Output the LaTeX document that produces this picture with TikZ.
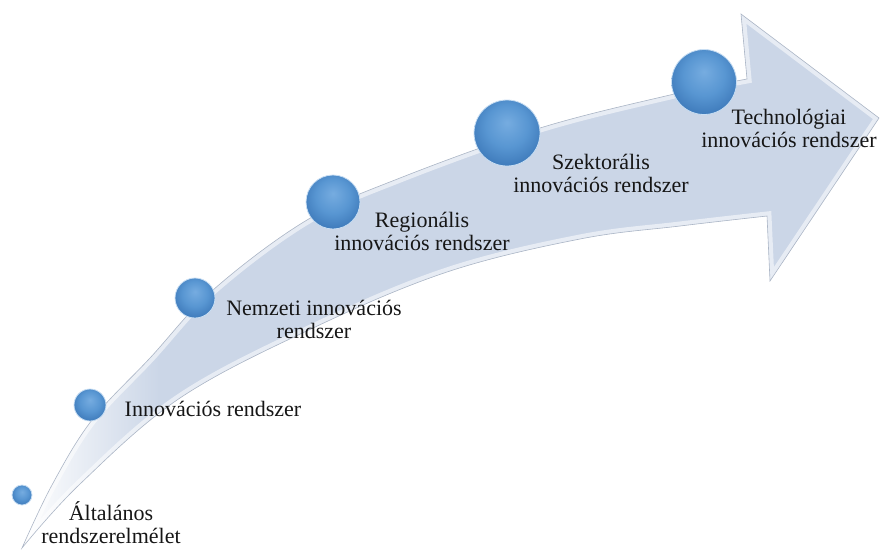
\documentclass[tikz,border=0pt]{standalone}
\usepackage{fontspec}
\setmainfont{Liberation Serif}

\definecolor{arw}{RGB}{203,214,231}
\definecolor{arwedge}{RGB}{172,182,198}
\definecolor{sphhi}{RGB}{118,172,224}
\definecolor{sphmid}{RGB}{88,150,210}
\definecolor{sphlo}{RGB}{64,124,188}
\definecolor{sphrim}{RGB}{200,222,243}
\definecolor{ink}{RGB}{22,22,22}

% body of the arrow: white at the tail, light steel blue further on
\pgfdeclarehorizontalshading{arrowfade}{100bp}{color(0bp)=(white); color(25bp)=(white); color(33bp)=(arw); color(100bp)=(arw)}
% glossy blue spheres, lit from above
\pgfdeclareradialshading{sphere}{\pgfpoint{0bp}{8bp}}{color(0bp)=(sphhi); color(16bp)=(sphmid); color(28bp)=(sphlo); color(33bp)=(sphlo); color(50bp)=(sphlo)}

% outline of the curved arrow: upper edge, head, lower edge
\def\arrowpath{plot[smooth, tension=0.6] coordinates {(22,548) (52,485) (92,420) (150,358) (213,290) (307,220) (400,178) (540,128) (670,95) (747,79)}
  -- (741,14) -- (879,118) -- (770,281)
  -- plot[smooth, tension=0.6] coordinates {(767,216) (680,226) (580,239) (447,272) (313,328) (180,398) (80,484) (22,548)} -- cycle}

\begin{document}
\begin{tikzpicture}[x=1pt, y=-1pt,
  lbl/.style={font=\fontsize{22}{22.5}\selectfont, align=center, anchor=base, inner sep=0pt, text=ink},
  orb/.style={circle, minimum size=#1, inner sep=0pt, shading=sphere, draw=sphrim, line width=0.8pt}]
  \useasboundingbox (0,0) rectangle (880,550);

  % arrow body
  \path[shading=arrowfade] \arrowpath;
  \begin{scope}
    \clip \arrowpath;
    \draw[white, line width=9pt, opacity=0.55] \arrowpath;
  \end{scope}
  \draw[arwedge, line width=0.6pt] \arrowpath;

  % stages along the arrow
  \node[orb=20pt] (s1) at (22,495) {};
  \node[orb=32pt] (s2) at (90,405) {};
  \node[orb=40pt] (s3) at (195,298) {};
  \node[orb=54pt] (s4) at (333,202) {};
  \node[orb=66pt] (s5) at (507,133) {};
  \node[orb=65pt] (s6) at (704,82) {};

  % labels
  \node[lbl] (t1) at (111,543) {Általános\\rendszerelmélet};
  \node[lbl] (t2) at (213,416) {Innovációs rendszer};
  \node[lbl] (t3) at (314,338) {Nemzeti innovációs\\rendszer};
  \node[lbl] (t4) at (422,250) {Regionális\\innovációs rendszer};
  \node[lbl] (t5) at (601,192) {Szektorális\\innovációs rendszer};
  \node[lbl] (t6) at (789,147) {Technológiai\\innovációs rendszer};
\end{tikzpicture}
\end{document}
